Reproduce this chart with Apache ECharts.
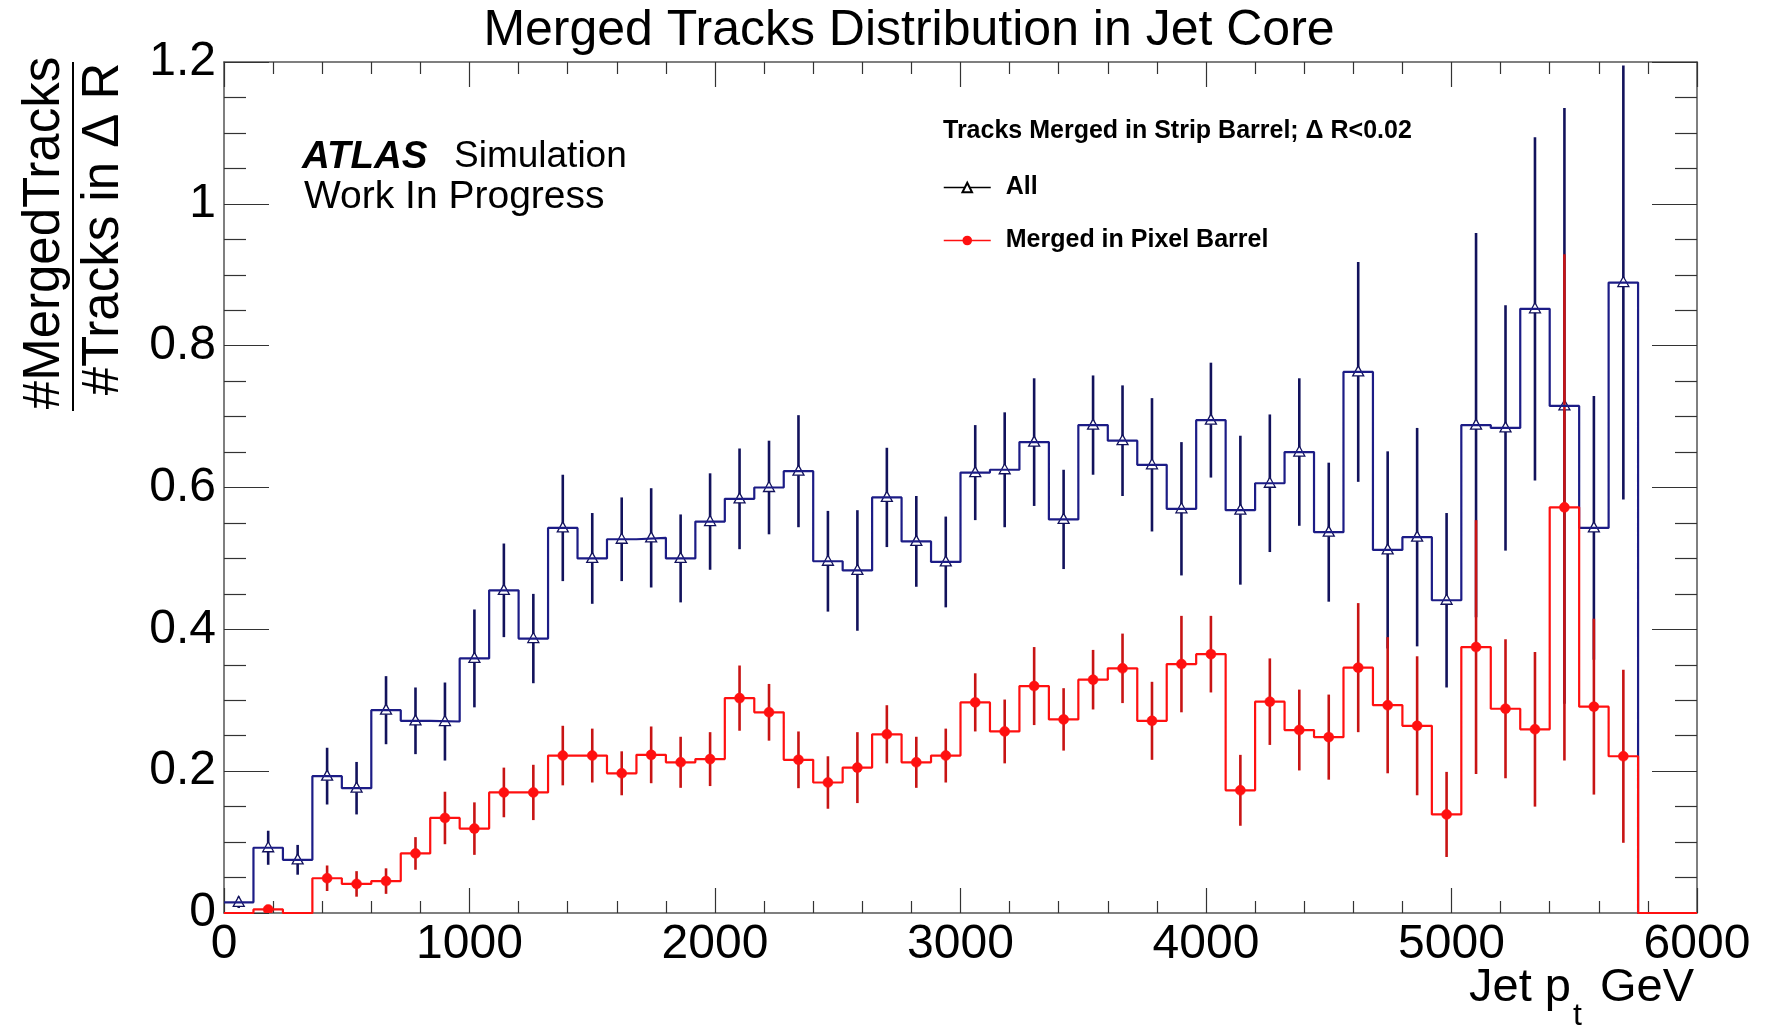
<!DOCTYPE html>
<html>
<head>
<meta charset="utf-8">
<script src="https://cdn.jsdelivr.net/npm/echarts@6/dist/echarts.min.js"></script>
<style>
html,body{margin:0;padding:0;background:#fff;}
#chart{width:1765px;height:1030px;}
</style>
</head>
<body>
<div id="chart"></div>
<script>
// ---- data ----
const binEdges = [0,120,240,360,480,600,720,840,960,1080,1200,1320,1440,1560,1680,1800,1920,2040,2160,2280,2400,2520,2640,2760,2880,3000,3120,3240,3360,3480,3600,3720,3840,3960,4080,4200,4320,4440,4560,4680,4800,4920,5040,5160,5280,5400,5520,5640,5760,5880,6000];
const binCenters = [60,180,300,420,540,660,780,900,1020,1140,1260,1380,1500,1620,1740,1860,1980,2100,2220,2340,2460,2580,2700,2820,2940,3060,3180,3300,3420,3540,3660,3780,3900,4020,4140,4260,4380,4500,4620,4740,4860,4980,5100,5220,5340,5460,5580,5700,5820,5940];

const allValues = [0.015,0.092,0.075,0.193,0.176,0.286,0.271,0.270,0.359,0.455,0.387,0.543,0.500,0.527,0.529,0.500,0.552,0.584,0.600,0.623,0.496,0.483,0.586,0.524,0.495,0.621,0.625,0.664,0.555,0.688,0.666,0.632,0.570,0.695,0.568,0.606,0.650,0.537,0.763,0.512,0.530,0.441,0.688,0.684,0.852,0.715,0.543,0.889,0,0];
const allErrors = [0.008,0.024,0.021,0.040,0.037,0.048,0.047,0.055,0.069,0.066,0.063,0.075,0.064,0.059,0.070,0.062,0.068,0.071,0.066,0.079,0.071,0.085,0.070,0.064,0.064,0.067,0.081,0.090,0.070,0.070,0.078,0.094,0.094,0.081,0.105,0.097,0.104,0.098,0.155,0.139,0.154,0.123,0.271,0.173,0.242,0.420,0.186,0.306,0,0];

const pixelValues = [0,0.005,0,0.049,0.041,0.045,0.084,0.134,0.119,0.170,0.170,0.222,0.222,0.197,0.223,0.2125,0.217,0.303,0.283,0.216,0.184,0.205,0.252,0.2125,0.222,0.297,0.256,0.320,0.273,0.329,0.345,0.271,0.351,0.365,0.173,0.298,0.258,0.248,0.346,0.293,0.264,0.139,0.375,0.288,0.259,0.572,0.291,0.221,0,0];
const pixelErrors = [0,0.004,0,0.018,0.018,0.018,0.023,0.037,0.037,0.035,0.039,0.042,0.038,0.031,0.040,0.036,0.038,0.046,0.040,0.040,0.037,0.050,0.041,0.036,0.038,0.041,0.045,0.055,0.044,0.042,0.049,0.055,0.068,0.054,0.050,0.061,0.057,0.060,0.091,0.096,0.098,0.060,0.179,0.098,0.109,0.357,0.124,0.122,0,0];

const xTicks = [0,1000,2000,3000,4000,5000,6000];
const yTicks = [0,0.2,0.4,0.6,0.8,1,1.2];

const seriesNames = ['All', 'Merged in Pixel Barrel'];
const titleText = 'Merged Tracks Distribution in Jet Core';
const legendHeader = 'Tracks Merged in Strip Barrel; \u0394 R<0.02';

// ---- styles ----
const FONT = '"Liberation Sans", Arial, Helvetica, sans-serif';
const BLUE = '#1c1c86';
const BLUE_ERR = '#12125c';
const RED = '#ff1010';
const RED_ERR = '#c81414';
const FRAME = '#555555';

function stepData(values) {
  const d = [];
  for (let i = 0; i < values.length; i++) d.push([binEdges[i], values[i]]);
  d.push([binEdges[binEdges.length - 1], values[values.length - 1]]);
  return d;
}
function errData(values, errors) {
  return binCenters.map((c, i) => [c, values[i], errors[i]]);
}
function makeErrRender(kind) {
  return function (params, api) {
    const x = api.value(0), v = api.value(1), e = api.value(2);
    if (!v) return null;
    const top = api.coord([x, v + e]);
    const bot = api.coord([x, v - e]);
    const c = api.coord([x, v]);
    const children = [];
    if (e > 0) {
      children.push({
        type: 'line',
        shape: { x1: c[0], y1: top[1], x2: c[0], y2: bot[1] },
        style: { stroke: kind === 'blue' ? BLUE_ERR : RED_ERR, lineWidth: 2.6 }
      });
    }
    if (kind === 'blue') {
      children.push({
        type: 'polygon',
        shape: { points: [[c[0], c[1] - 6], [c[0] - 5.5, c[1] + 4], [c[0] + 5.5, c[1] + 4]] },
        style: { fill: '#ffffff', stroke: BLUE_ERR, lineWidth: 1.3 }
      });
    } else {
      children.push({
        type: 'circle',
        shape: { cx: c[0], cy: c[1], r: 5 },
        style: { fill: RED, stroke: RED, lineWidth: 0.5 }
      });
    }
    return { type: 'group', children: children };
  };
}

const chart = echarts.init(document.getElementById('chart'), null, { renderer: 'canvas' });

const xAxisCommon = {
  type: 'value', min: xTicks[0], max: xTicks[xTicks.length - 1], interval: xTicks[1] - xTicks[0],
  splitLine: { show: false },
  axisLine: { show: true, onZero: false, lineStyle: { color: FRAME, width: 1.5 } },
  axisTick: { show: true, inside: true, length: 25, lineStyle: { color: '#333', width: 1.2 } },
  minorTick: { show: true, splitNumber: 5, length: 12, lineStyle: { color: '#333', width: 1.2 } },
  minorSplitLine: { show: false }
};
const yAxisCommon = {
  type: 'value', min: yTicks[0], max: yTicks[yTicks.length - 1], interval: yTicks[1] - yTicks[0],
  splitLine: { show: false },
  axisLine: { show: true, onZero: false, lineStyle: { color: FRAME, width: 1.5 } },
  axisTick: { show: true, inside: true, length: 45, lineStyle: { color: '#333', width: 1.2 } },
  minorTick: { show: true, splitNumber: 4, length: 22, lineStyle: { color: '#333', width: 1.2 } },
  minorSplitLine: { show: false }
};

const option = {
  animation: false,
  backgroundColor: '#ffffff',
  textStyle: { fontFamily: FONT },
  grid: { left: 224, right: 68, top: 62, bottom: 117, containLabel: false, outerBoundsMode: 'none' },
  xAxis: [
    Object.assign({}, xAxisCommon, {
      position: 'bottom',
      axisLabel: { show: true, fontSize: 48, color: '#000', margin: 8, fontFamily: FONT, showMinLabel: true, showMaxLabel: true, hideOverlap: false,
        formatter: function (v) { return String(v); } }
    }),
    Object.assign({}, xAxisCommon, { position: 'top', axisLabel: { show: false } })
  ],
  yAxis: [
    Object.assign({}, yAxisCommon, {
      position: 'left',
      axisLabel: { show: true, fontSize: 48, color: '#000', margin: 8, fontFamily: FONT, showMinLabel: true, showMaxLabel: true, hideOverlap: false,
        formatter: function (v) { return String(Math.round(v * 10) / 10); } }
    }),
    Object.assign({}, yAxisCommon, { position: 'right', axisLabel: { show: false } })
  ],
  legend: {
    show: true,
    orient: 'vertical',
    left: 943,
    top: 175,
    padding: 0,
    itemWidth: 47,
    itemHeight: 12,
    itemGap: 28,
    selectedMode: false,
    textStyle: { fontSize: 25, fontWeight: 'bold', color: '#000', fontFamily: FONT, padding: [0, 0, 0, 10] },
    data: [
      { name: seriesNames[0], itemStyle: { color: '#000' }, lineStyle: { color: '#000', width: 1.5 } },
      { name: seriesNames[1], itemStyle: { color: RED }, lineStyle: { color: RED, width: 1.5 } }
    ]
  },
  graphic: [
    { type: 'text', x: 909, y: 31, style: { text: titleText, font: '50px ' + FONT, fill: '#000', align: 'center', verticalAlign: 'middle', textAlign: 'center', textVerticalAlign: 'middle' } },
    // y axis title as a fraction
    { type: 'text', x: 45, y: 233, rotation: Math.PI / 2, style: { text: '#MergedTracks', font: '51px ' + FONT, fill: '#000', align: 'center', verticalAlign: 'middle', textAlign: 'center', textVerticalAlign: 'middle' } },
    { type: 'line', shape: { x1: 73, y1: 62, x2: 73, y2: 411 }, style: { stroke: '#000', lineWidth: 2 } },
    { type: 'text', x: 104, y: 229, rotation: Math.PI / 2, style: { text: '#Tracks in \u0394 R', font: '51px ' + FONT, fill: '#000', align: 'center', verticalAlign: 'middle', textAlign: 'center', textVerticalAlign: 'middle' } },
    // x axis title
    { type: 'text', x: 1571, y: 988, style: { text: 'Jet p', font: '47px ' + FONT, fill: '#000', align: 'right', verticalAlign: 'middle', textAlign: 'right', textVerticalAlign: 'middle' } },
    { type: 'text', x: 1573, y: 1016, style: { text: 't', font: '32px ' + FONT, fill: '#000', align: 'left', verticalAlign: 'middle', textAlign: 'left', textVerticalAlign: 'middle' } },
    { type: 'text', x: 1694, y: 988, style: { text: 'GeV', font: '47px ' + FONT, fill: '#000', align: 'right', verticalAlign: 'middle', textAlign: 'right', textVerticalAlign: 'middle' } },
    // ATLAS label
    { type: 'text', x: 302, y: 157, style: { text: 'ATLAS', font: 'italic bold 38.5px ' + FONT, fill: '#000', align: 'left', verticalAlign: 'middle', textAlign: 'left', textVerticalAlign: 'middle' } },
    { type: 'text', x: 454, y: 157, style: { text: 'Simulation', font: '37px ' + FONT, fill: '#000', align: 'left', verticalAlign: 'middle', textAlign: 'left', textVerticalAlign: 'middle' } },
    { type: 'text', x: 304, y: 197, style: { text: 'Work In Progress', font: '39px ' + FONT, fill: '#000', align: 'left', verticalAlign: 'middle', textAlign: 'left', textVerticalAlign: 'middle' } },
    // legend header
    { type: 'text', x: 943, y: 131, style: { text: legendHeader, font: 'bold 25px ' + FONT, fill: '#000', align: 'left', verticalAlign: 'middle', textAlign: 'left', textVerticalAlign: 'middle' } }
  ],
  series: [
    {
      name: seriesNames[0], type: 'line', step: 'end', data: stepData(allValues),
      symbol: 'emptyTriangle', symbolSize: 10, showSymbol: false,
      itemStyle: { color: BLUE }, lineStyle: { color: BLUE, width: 2.2 },
      xAxisIndex: 0, yAxisIndex: 0, silent: true, z: 2
    },
    {
      name: 'All errors', type: 'custom', data: errData(allValues, allErrors),
      renderItem: makeErrRender('blue'), encode: { x: 0, y: 1 },
      xAxisIndex: 0, yAxisIndex: 0, silent: true, clip: true, z: 2
    },
    {
      name: seriesNames[1], type: 'line', step: 'end', data: stepData(pixelValues),
      symbol: 'circle', symbolSize: 10, showSymbol: false,
      itemStyle: { color: RED }, lineStyle: { color: RED, width: 2.2 },
      xAxisIndex: 0, yAxisIndex: 0, silent: true, z: 2
    },
    {
      name: 'Pixel errors', type: 'custom', data: errData(pixelValues, pixelErrors),
      renderItem: makeErrRender('red'), encode: { x: 0, y: 1 },
      xAxisIndex: 0, yAxisIndex: 0, silent: true, clip: true, z: 2
    }
  ]
};
chart.setOption(option);
</script>
</body>
</html>
